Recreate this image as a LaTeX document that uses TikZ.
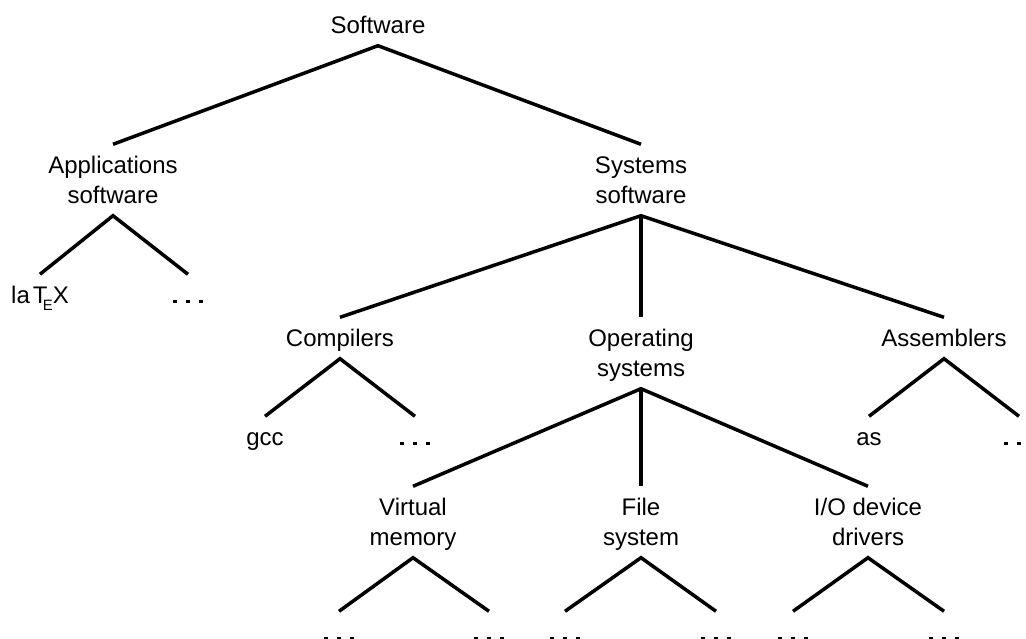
\documentclass[tikz,border=0pt]{standalone}
\usepackage{fontspec}
\setmainfont{Liberation Sans}
\newcommand{\lstrut}{\rule[-6.9pt]{0pt}{30pt}}
\newcommand{\tdots}{\rule{3.6pt}{3.6pt}\kern9.4pt\rule{3.6pt}{3.6pt}\kern9.4pt\rule{3.6pt}{3.6pt}}
\newcommand{\lalogo}{la\kern3pt T\kern-4.7pt\lower7pt\hbox{\fontsize{15}{15}\selectfont E}X}
\begin{document}
\begin{tikzpicture}[x=1pt,y=-1pt,
  lbl/.style={font=\fontsize{24}{30}\selectfont, inner xsep=0pt, inner ysep=5.5pt, align=center},
  branch/.style={line width=3.5pt}]
\useasboundingbox (0,0) rectangle (1026,639);
% level 0
\node[lbl] (sw) at (378,25) {Software\lstrut};
% level 1
\node[lbl] (app) at (113,180) {Applications\lstrut\\software\lstrut};
\node[lbl] (sys) at (641,180) {Systems\lstrut\\software\lstrut};
% applications leaves
\node[lbl] (latex) at (40,295) {\lalogo\lstrut};
\node[lbl] (adots) at (188,295) {\tdots\lstrut};
% level 2
\node[lbl] (comp) at (340,338) {Compilers\lstrut};
\node[lbl] (os) at (641,353) {Operating\lstrut\\systems\lstrut};
\node[lbl] (asm) at (944,338) {Assemblers\lstrut};
% compiler / assembler leaves
\node[lbl] (gcc) at (265,437) {gcc\lstrut};
\node[lbl] (cdots) at (415,437) {\tdots\lstrut};
\node[lbl] (as) at (869,437) {as\lstrut};
\node[lbl] (sdots) at (1019,437) {\tdots\lstrut};
% level 3
\node[lbl] (vm) at (413,522) {Virtual\lstrut\\memory\lstrut};
\node[lbl] (fs) at (641,522) {File\lstrut\\system\lstrut};
\node[lbl] (io) at (868,522) {I/O device\lstrut\\drivers\lstrut};
% bottom leaves
\node[lbl] (vd1) at (339,632) {\tdots\lstrut};
\node[lbl] (vd2) at (489,632) {\tdots\lstrut};
\node[lbl] (fd1) at (565,632) {\tdots\lstrut};
\node[lbl] (fd2) at (716,632) {\tdots\lstrut};
\node[lbl] (id1) at (793,632) {\tdots\lstrut};
\node[lbl] (id2) at (944,632) {\tdots\lstrut};
% connectors
\draw[branch] (app.north) -- (sw.south) -- (sys.north);
\draw[branch] (latex.north) -- (app.south) -- (adots.north);
\draw[branch] (comp.north) -- (sys.south) -- (asm.north);
\draw[branch] (sys.south) -- (os.north);
\draw[branch] (gcc.north) -- (comp.south) -- (cdots.north);
\draw[branch] (as.north) -- (asm.south) -- (sdots.north);
\draw[branch] (vm.north) -- (os.south) -- (io.north);
\draw[branch] (os.south) -- (fs.north);
\draw[branch] (vd1.north) -- (vm.south) -- (vd2.north);
\draw[branch] (fd1.north) -- (fs.south) -- (fd2.north);
\draw[branch] (id1.north) -- (io.south) -- (id2.north);
\end{tikzpicture}
\end{document}
